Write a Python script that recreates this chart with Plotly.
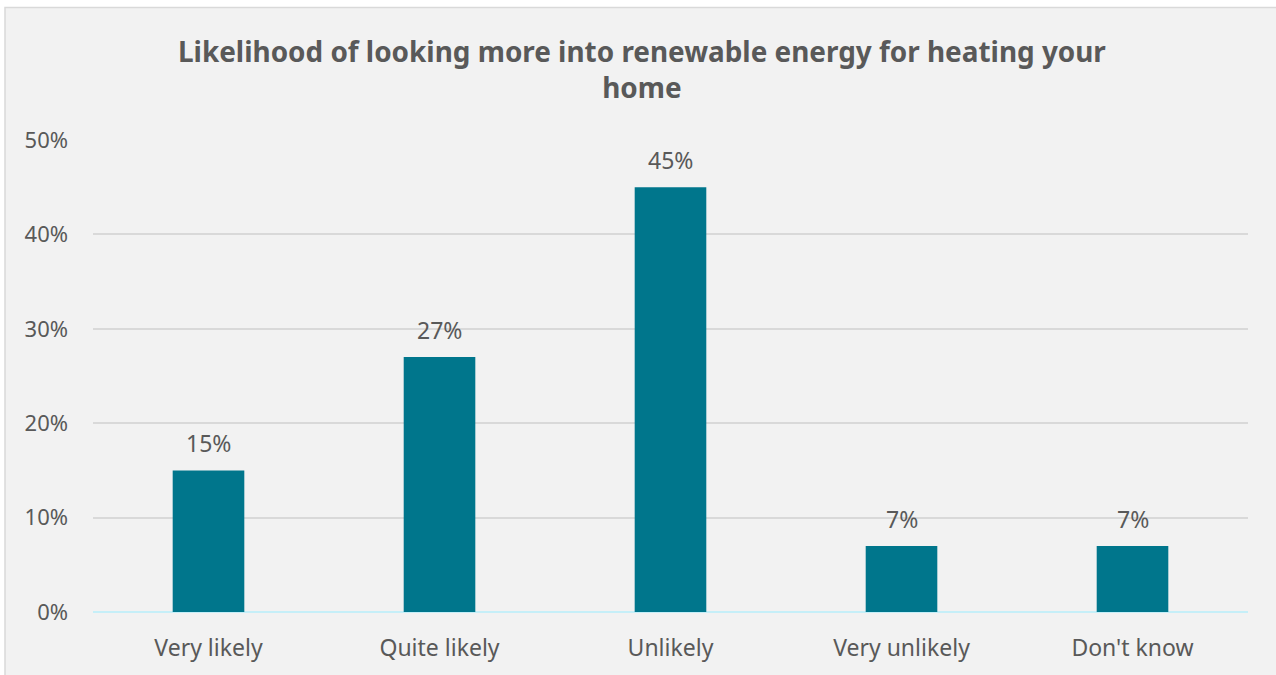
import plotly.graph_objects as go

# Survey responses
categories = ["Very likely", "Quite likely", "Unlikely", "Very unlikely", "Don't know"]
shares = [15, 27, 45, 7, 7]
y_ticks = [0, 10, 20, 30, 40, 50]
y_tick_labels = ["0%", "10%", "20%", "30%", "40%", "50%"]

title_text = "Likelihood of looking more into renewable energy for heating your<br>home"

W, H = 1276, 675
M_L, M_R, M_T, M_B = 93, 28, 140, 61
plot_w = W - M_L - M_R
plot_h = H - M_T - M_B

def px_x(p):
    return (p - M_L) / plot_w

def px_y(p):
    return (H - M_B - p) / plot_h

FONT = "Noto Sans"
GREY = "#595959"

fig = go.Figure(
    go.Bar(
        x=categories,
        y=shares,
        marker=dict(color="#00768C", line=dict(width=0)),
        width=0.31,
        hoverinfo="x+y",
    )
)

# value labels above each bar
value_labels = [
    dict(
        x=c, y=v, xref="x", yref="y", text=f"{v}%",
        showarrow=False, xanchor="center", yanchor="middle", yshift=27,
        font=dict(family=FONT, size=23, color=GREY),
    )
    for c, v in zip(categories, shares)
]

fig.update_layout(
    width=W,
    height=H,
    margin=dict(l=M_L, r=M_R, t=M_T, b=M_B),
    paper_bgcolor="white",
    plot_bgcolor="rgba(0,0,0,0)",
    showlegend=False,
    font=dict(family=FONT, color=GREY),
    shapes=[
        dict(
            type="rect", xref="paper", yref="paper", layer="below",
            x0=px_x(5), x1=px_x(1290), y0=px_y(690), y1=px_y(7),
            fillcolor="#F2F2F2", line=dict(color="#D9D9D9", width=1.5),
        )
    ],
    annotations=[
        dict(
            text=f"<b>{title_text}</b>", xref="paper", yref="paper",
            x=px_x(642), y=px_y(69), xanchor="center", yanchor="middle",
            showarrow=False, align="center",
            font=dict(family=FONT, size=27.9, color=GREY),
        )
    ] + value_labels,
)

fig.update_xaxes(
    showgrid=False, showline=False, ticks="",
    tickfont=dict(family=FONT, size=23, color=GREY),
    ticklabelstandoff=20,
)
fig.update_yaxes(
    range=[0, 50], tickvals=y_ticks, ticktext=y_tick_labels,
    showgrid=True, gridcolor="#D9D9D9", gridwidth=1.5,
    zeroline=True, zerolinecolor="#C6EFF8", zerolinewidth=2,
    showline=False, ticks="",
    tickfont=dict(family=FONT, size=22, color=GREY),
    ticklabelstandoff=24,
)

fig.write_html("out.html")
